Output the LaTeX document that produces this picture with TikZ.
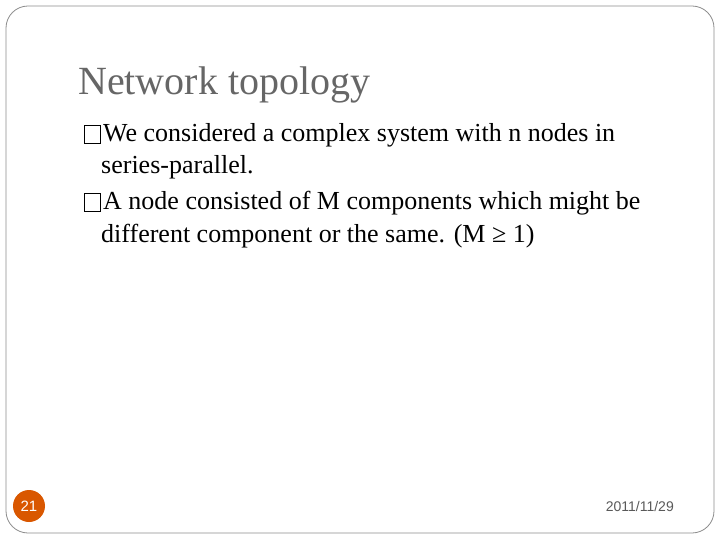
\documentclass[tikz,border=0pt]{standalone}
\usepackage{fontspec}
\setmainfont{Liberation Serif}
\newfontfamily\sansf{Liberation Sans}
\begin{document}
\begin{tikzpicture}[x=1pt,y=-1pt,
  body/.style={anchor=base west,inner sep=0,font=\fontsize{26}{30}\selectfont},
  bul/.style={draw=black,line width=0.8pt,minimum width=16pt,minimum height=18pt,inner sep=0,anchor=south west}]
\useasboundingbox (0,0) rectangle (720,540);
\draw[rounded corners=22pt,draw=black!45,line width=0.8pt] (6,6) rectangle (714,533);
\node[anchor=base west,inner sep=0,text=black!60,font=\fontsize{40}{44}\selectfont] (title) at (78,95) {Network topology};
\node[bul] (b1) at (84,144) {};
\node[body] (l1) at (103,142) {We considered a complex system with n nodes in};
\node[body] (l1b) at (101,174) {series-parallel.};
\node[bul] (b2) at (84,212) {};
\node[body] (l2) at (103,210) {A node consisted of M components which might be};
\node[body] (l2b) at (101,242) {different component or the same. (M ≥ 1)};
\node[circle,fill=orange!80!red!85!black,minimum size=32pt,inner sep=0,text=white,font=\sansf\fontsize{15}{16}\selectfont] (pg) at (29,506) {21};
\node[anchor=base east,inner sep=0,text=black!65,font=\sansf\fontsize{14}{16}\selectfont] (date) at (674,511) {2011/11/29};
\end{tikzpicture}
\end{document}
